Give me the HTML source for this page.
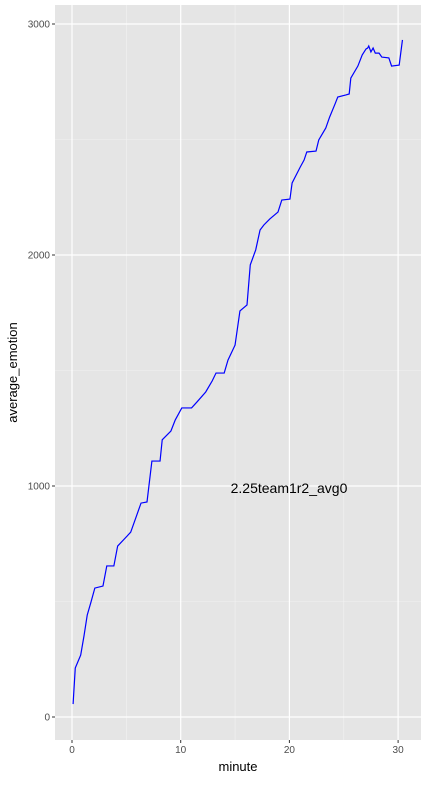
<!DOCTYPE html>
<html><head><meta charset="utf-8"><style>
body{margin:0;background:#fff;font-family:"Liberation Sans",sans-serif}
</style></head><body>
<svg id="chart" width="427" height="780" xmlns="http://www.w3.org/2000/svg"></svg>
<script>
const minutes=[0.1,0.3,0.8,1.1,1.4,1.75,2.1,2.85,3.2,3.85,4.2,4.9,5.4,5.9,6.35,6.9,7.35,8.1,8.3,9.1,9.5,10.1,11.0,11.5,12.3,12.9,13.25,14.0,14.35,15.0,15.45,16.1,16.4,16.9,17.3,17.65,18.2,18.95,19.3,20.05,20.25,21,21.35,21.6,22.45,22.7,23.35,23.7,24.2,24.45,25.2,25.5,25.65,26.3,26.7,27.05,27.2,27.3,27.5,27.7,27.9,28.25,28.5,29.15,29.4,30.1,30.4];
const emotion=[56,212,268,350,441,498,558,567,654,654,740,775,800,866,926,931,1108,1108,1200,1238,1286,1338,1338,1364,1407,1455,1489,1489,1545,1610,1758,1784,1957,2022,2108,2130,2156,2186,2238,2242,2312,2381,2411,2446,2450,2498,2550,2597,2654,2684,2693,2697,2766,2818,2866,2892,2896,2905,2879,2896,2874,2874,2857,2853,2818,2822,2931];
const xTicks=[0,10,20,30];
const yTicks=[0,1000,2000,3000];
const annotation="2.25team1r2_avg0";
const NS="http://www.w3.org/2000/svg";
const svg=document.getElementById('chart');
const X=m=>72+m*10.87, Y=v=>717-v*0.231;
const P={l:55,r:421,t:5,b:740};
function mk(t,a,p){const e=document.createElementNS(NS,t);for(const k in a)e.setAttribute(k,a[k]);(p||svg).appendChild(e);return e;}
const bg=mk('rect',{x:P.l,y:P.t,width:P.r-P.l,height:P.b-P.t,fill:'#e5e5e5'});


for(let i=0;i<yTicks.length-1;i++){const v=(yTicks[i]+yTicks[i+1])/2;const g=mk('line',{x1:P.l,x2:P.r,y1:Y(v),y2:Y(v),stroke:'#f2f2f2','stroke-width':0.6});

}
for(let i=0;i<xTicks.length-1;i++){const m=(xTicks[i]+xTicks[i+1])/2;const g=mk('line',{x1:X(m),x2:X(m),y1:P.t,y2:P.b,stroke:'#f2f2f2','stroke-width':0.6});

}
yTicks.forEach(v=>{const g=mk('line',{x1:P.l,x2:P.r,y1:Y(v),y2:Y(v),stroke:'#fff','stroke-width':1.2});


mk('line',{x1:P.l-3,x2:P.l,y1:Y(v),y2:Y(v),stroke:'#333'});
const t=mk('text',{x:P.l-5,y:Y(v)+3.5,'text-anchor':'end','font-size':10,fill:'#4d4d4d'});t.textContent=v;

});
xTicks.forEach(m=>{const g=mk('line',{x1:X(m),x2:X(m),y1:P.t,y2:P.b,stroke:'#fff','stroke-width':1.2});


mk('line',{x1:X(m),x2:X(m),y1:P.b,y2:P.b+3,stroke:'#333'});
const t=mk('text',{x:X(m),y:P.b+13,'text-anchor':'middle','font-size':10,fill:'#4d4d4d'});t.textContent=m;

});
const line=mk('polyline',{points:minutes.map((m,i)=>X(m)+','+Y(emotion[i])).join(' '),fill:'none',stroke:'#0000ff','stroke-width':1.2});


const an=mk('text',{x:289,y:493,'text-anchor':'middle','font-size':14,fill:'#000'});an.textContent=annotation;


const xt=mk('text',{x:(P.l+P.r)/2,y:771,'text-anchor':'middle','font-size':13,fill:'#000'});xt.textContent='minute';


const yt=mk('text',{x:17,y:(P.t+P.b)/2,'text-anchor':'middle','font-size':13,fill:'#000',transform:`rotate(-90 17 ${(P.t+P.b)/2})`});yt.textContent='average_emotion';


</script>
</body></html>
